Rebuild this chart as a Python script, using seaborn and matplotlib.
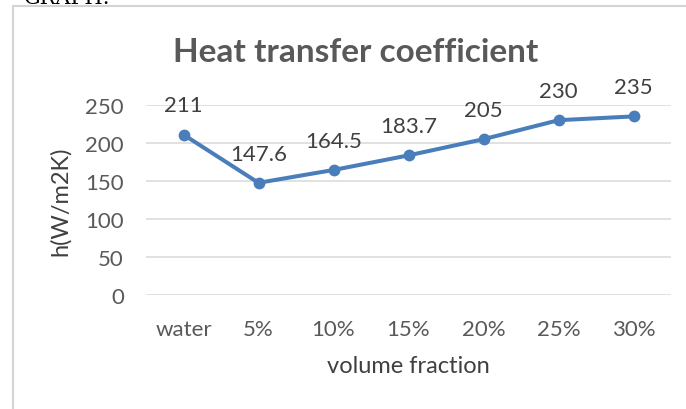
import matplotlib
matplotlib.use("Agg")
import matplotlib.pyplot as plt
import seaborn as sns
import pandas as pd
from matplotlib.patches import Rectangle

categories = ["water", "5%", "10%", "15%", "20%", "25%", "30%"]
h_values = [211, 147.6, 164.5, 183.7, 205, 230, 235]
value_labels = ["211", "147.6", "164.5", "183.7", "205", "230", "235"]
y_ticks = [0, 50, 100, 150, 200, 250]

sns.set_theme(style="white")
plt.rcParams["font.family"] = ["Lato", "DejaVu Sans"]

W, H = 686, 410
fig = plt.figure(figsize=(W / 100, H / 100), dpi=100)
fig.patch.set_facecolor("white")

# chart border (cut off at right and bottom)
fig.patches.append(Rectangle((13 / W, -0.1), 1.2, 1 - 7 / H + 0.1, transform=fig.transFigure,
                             fill=False, edgecolor="#d4d4d4", linewidth=1.5))
fig.text(24 / W, 1 - 4 / H, "GRAPH:", family="DejaVu Serif", fontsize=15,
         color="black", va="baseline", ha="left")

left, right, top, bottom = 146, 671, 106, 296
ax = fig.add_axes([left / W, 1 - bottom / H, (right - left) / W, (bottom - top) / H])

df = pd.DataFrame({"fraction": categories, "h": h_values})
grey = "#595959"
blue = "#4A7EBB"

for y in y_ticks:
    ax.axhline(y, color="#d9d9d9", linewidth=1.1, zorder=0)

sns.lineplot(data=df, x="fraction", y="h", ax=ax, color=blue, linewidth=2.9,
             marker="o", markersize=8.5, markeredgewidth=0, sort=False, zorder=3)

for i, (v, lab) in enumerate(zip(h_values, value_labels)):
    ax.annotate(lab, (i, v), xytext=(0, 21), textcoords="offset points",
                ha="center", va="center", fontsize=16, color="#404040")

ax.set_xlim(-0.5, len(categories) - 0.5)
ax.set_ylim(0, 250)
ax.set_yticks(y_ticks)
ax.set_xticks(range(len(categories)))
ax.set_xticklabels(categories)
for s in ax.spines.values():
    s.set_visible(False)
ax.tick_params(axis="both", length=0, labelsize=16, labelcolor=grey)
ax.tick_params(axis="x", pad=17)
ax.tick_params(axis="y", pad=16)
ax.set_facecolor("none")

ax.set_xlabel("volume fraction", fontsize=17, color="#404040", labelpad=12)
ax.set_ylabel("h(W/m2K)", fontsize=17, color="#404040", labelpad=10)

fig.text(356 / W, 1 - 53 / H, "Heat transfer coefficient", ha="center", va="center",
         fontsize=24, fontweight="bold", color=grey)

fig.savefig("out.png", dpi=100)
